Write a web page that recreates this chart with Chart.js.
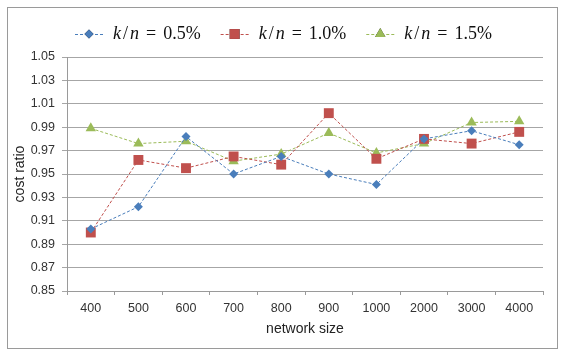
<!DOCTYPE html>
<html>
<head>
<meta charset="utf-8">
<script src="https://cdn.jsdelivr.net/npm/chart.js@4"></script>
<style>
  html, body { margin: 0; padding: 0; background: #fff; }
  canvas { display: block; }
</style>
</head>
<body>
<canvas id="costChart" width="566" height="354"></canvas>
<script>
// Network sizes on the x axis
const networkSizes = ['400', '500', '600', '700', '800', '900', '1000', '2000', '3000', '4000'];

// Cost ratio per k/n setting
const ratio05 = [0.903, 0.922, 0.982, 0.950, 0.965, 0.950, 0.941, 0.980, 0.987, 0.975];
const ratio10 = [0.900, 0.962, 0.955, 0.965, 0.958, 1.002, 0.963, 0.980, 0.976, 0.986];
const ratio15 = [0.989, 0.976, 0.978, 0.961, 0.967, 0.985, 0.968, 0.976, 0.994, 0.995];

// Legend percentages
const legendValues = ['0.5%', '1.0%', '1.5%'];

const blue = '#4a7ebb';
const red = '#c0504d';
const green = '#9bbb59';

// Frame + white background
const framePlugin = {
    id: 'frame',
    beforeDraw(chart) {
        const ctx = chart.ctx;
        ctx.save();
        ctx.fillStyle = '#fff';
        ctx.fillRect(0, 0, chart.width, chart.height);
        ctx.strokeStyle = '#9a9a9a';
        ctx.lineWidth = 1;
        ctx.strokeRect(7.5, 7.5, 550, 341);
        ctx.restore();
    }
};

// Legend with italic k and n, like the LaTeX labels
const mathLegend = {
    id: 'mathLegend',
    afterDraw(chart) {
        const ctx = chart.ctx;
        const fontSize = 18;
        const upright = fontSize + 'px "Liberation Serif", serif';
        const italic = 'italic ' + fontSize + 'px "Liberation Serif", serif';
        const lineLen = 28, gapText = 10, gapItem = 20;
        const y = 34, baseline = 39;

        const items = chart.data.datasets.map((ds, i) => {
            const parts = [
                { t: 'k', f: italic },
                { t: '/', f: upright, pad: 2 },
                { t: 'n', f: italic, pad: 2 },
                { t: '=', f: upright, pad: 7 },
                { t: legendValues[i], f: upright, pad: 7 }
            ];
            let w = 0;
            parts.forEach(p => {
                ctx.font = p.f;
                p.w = ctx.measureText(p.t).width;
                w += p.w + (p.pad || 0);
            });
            return { ds, parts, textW: w, total: lineLen + gapText + w };
        });

        const full = items.reduce((s, it) => s + it.total, 0) + gapItem * (items.length - 1);
        let x = Math.round(chart.width / 2 - full / 2);

        ctx.save();
        items.forEach(it => {
            const ds = it.ds;
            ctx.strokeStyle = ds.borderColor;
            ctx.lineWidth = 1;
            ctx.setLineDash([3, 2]);
            ctx.beginPath();
            ctx.moveTo(x, y + 0.5);
            ctx.lineTo(x + lineLen, y + 0.5);
            ctx.stroke();
            ctx.setLineDash([]);
            Chart.helpers.drawPoint(ctx, {
                pointStyle: ds.pointStyle,
                radius: ds.pointRadius,
                rotation: 0,
                borderWidth: 0
            }, x + lineLen / 2, y);
            ctx.fillStyle = ds.pointBackgroundColor;
            ctx.fill();

            let tx = x + lineLen + gapText;
            ctx.fillStyle = '#111';
            ctx.textBaseline = 'alphabetic';
            ctx.textAlign = 'left';
            it.parts.forEach(p => {
                tx += p.pad || 0;
                ctx.font = p.f;
                ctx.fillText(p.t, tx, baseline);
                tx += p.w;
            });
            x += it.total + gapItem;
        });
        ctx.restore();
    }
};

function series(label, data, color, style, radius) {
    return {
        label: label,
        data: data,
        borderColor: color,
        backgroundColor: color,
        pointBackgroundColor: color,
        pointBorderColor: color,
        pointBorderWidth: 0,
        pointStyle: style,
        pointRadius: radius,
        pointHoverRadius: radius,
        borderWidth: 1,
        borderDash: [3, 2],
        tension: 0,
        fill: false
    };
}

const ctx = document.getElementById('costChart').getContext('2d');
new Chart(ctx, {
    type: 'line',
    data: {
        labels: networkSizes,
        datasets: [
            series('k/n = 0.5%', ratio05, blue, 'rectRot', 4.5),
            series('k/n = 1.0%', ratio10, red, 'rect', 7),
            series('k/n = 1.5%', ratio15, green, 'triangle', 6)
        ]
    },
    options: {
        responsive: false,
        animation: false,
        layout: { padding: { left: 7, right: 23, top: 57, bottom: 16 } },
        plugins: {
            legend: { display: false },
            tooltip: { enabled: false }
        },
        scales: {
            x: {
                offset: true,
                afterFit: s => { s.height = 47; },
                grid: {
                    offset: true,
                    drawOnChartArea: false,
                    drawTicks: true,
                    tickLength: 4,
                    color: '#9a9a9a'
                },
                border: { color: '#9a9a9a' },
                ticks: {
                    color: '#333',
                    padding: 6,
                    maxRotation: 0,
                    autoSkip: false,
                    font: { family: '"Liberation Sans", Arial, sans-serif', size: 12.5 }
                },
                title: {
                    display: true,
                    text: 'network size',
                    color: '#222',
                    padding: { top: 0, bottom: 0 },
                    font: { family: '"Liberation Sans", Arial, sans-serif', size: 14 }
                }
            },
            y: {
                min: 0.85,
                max: 1.05,
                afterFit: s => { s.width = 60; },
                grid: {
                    color: '#a6a6a6',
                    drawTicks: true,
                    tickLength: 5
                },
                border: { color: '#9a9a9a' },
                ticks: {
                    stepSize: 0.02,
                    color: '#333',
                    padding: 7,
                    callback: v => v.toFixed(2),
                    font: { family: '"Liberation Sans", Arial, sans-serif', size: 12.5 }
                },
                title: {
                    display: true,
                    text: 'cost ratio',
                    color: '#222',
                    padding: { top: 5, bottom: 0 },
                    font: { family: '"Liberation Sans", Arial, sans-serif', size: 14 }
                }
            }
        }
    },
    plugins: [framePlugin, mathLegend]
});
</script>
</body>
</html>
